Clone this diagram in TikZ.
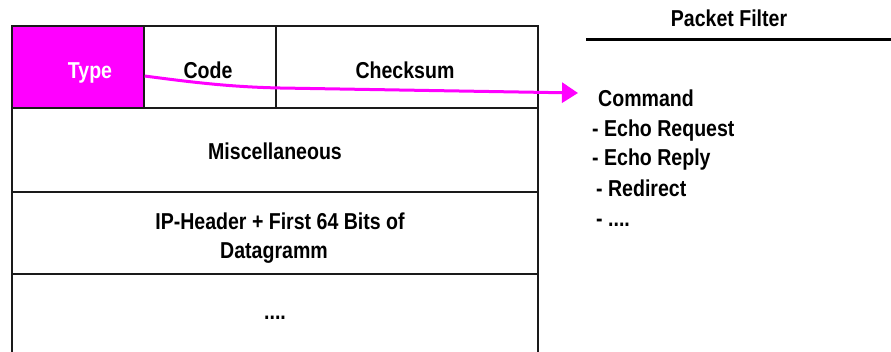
\documentclass[tikz,border=0pt]{standalone}
\usepackage{fontspec}
\setmainfont{Liberation Sans}[FakeStretch=0.85]
\usetikzlibrary{arrows.meta}
\definecolor{hot}{HTML}{FF00FF}
\definecolor{frame}{HTML}{1A1A1A}
\tikzset{
  cell/.style={draw=frame, line width=1.6pt, rectangle, inner sep=0pt, anchor=north west},
  lbl/.style={font=\fontsize{23}{27}\selectfont\bfseries, inner sep=0pt, anchor=base},
  item/.style={font=\fontsize{23}{27}\selectfont\bfseries, inner sep=0pt, anchor=base west},
  pointer/.style={draw=hot, line width=3pt, -{Triangle[length=16pt,width=20pt]}},
}
\begin{document}
\begin{tikzpicture}[x=1pt, y=-1pt]
\useasboundingbox (0,0) rectangle (891,352);

% ICMP header fields
\node[cell, fill=hot, minimum width=132pt, minimum height=82pt] (typecell) at (11,25) {};
\node[cell, minimum width=132pt, minimum height=82pt] (codecell) at (143,25) {};
\node[cell, minimum width=262pt, minimum height=82pt] (sumcell) at (275,25) {};
\node[cell, minimum width=526pt, minimum height=84pt] (misccell) at (11,107) {};
\node[cell, minimum width=526pt, minimum height=82pt] (ipcell) at (11,191) {};
\node[cell, minimum width=526pt, minimum height=84pt] (restcell) at (11,273) {};

\node[lbl, text=white] (typetext) at (90,79) {Type};
\node[lbl] (codetext) at (208,79) {Code};
\node[lbl] (sumtext) at (405,79) {Checksum};
\node[lbl] (misctext) at (275,160) {Miscellaneous};
\node[lbl] (iptext) at (280,230) {IP-Header + First 64 Bits of};
\node[lbl] (dgtext) at (274,259) {Datagramm};
\node[lbl] (resttext) at (275,320) {....};

% packet filter side
\node[lbl] (pftitle) at (729,27) {Packet Filter};
\coordinate (ruleL) at (586,39.5);
\coordinate (ruleR) at (891,39.5);
\draw[line width=3pt] (ruleL) -- (ruleR);

\node[item] (cmd) at (598,107) {Command};
\node[item] (echoreq) at (592,137) {- Echo Request};
\node[item] (echorep) at (592,166) {- Echo Reply};
\node[item] (redir) at (596,197) {- Redirect};
\node[item] (more) at (596,227) {- ....};

% type field selects the command
\coordinate (src) at (typecell.east |- 0,76);
\coordinate (dst) at (578,93);
\draw[pointer] (src) .. controls (190,82) and (230,87) .. (280,88) -- (dst);
\end{tikzpicture}
\end{document}
